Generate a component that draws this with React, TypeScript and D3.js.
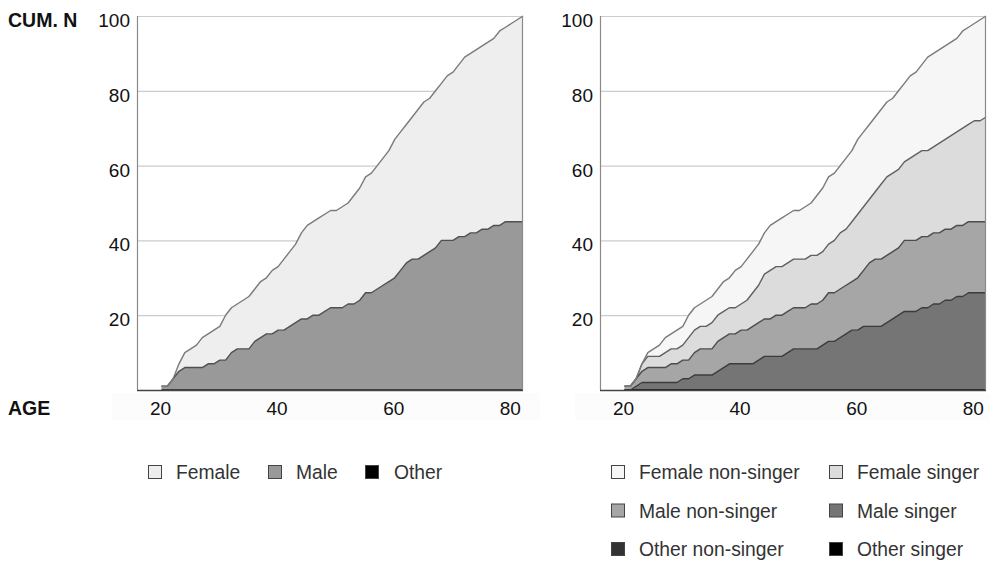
import React, { useEffect, useRef } from "react";
import * as d3 from "d3";

// age in years (x axis)
const ages = [
  20, 21, 22, 23, 24, 25, 26, 27, 28, 29, 30, 31, 32, 33, 34, 35, 36, 37, 38, 39, 40,
  41, 42, 43, 44, 45, 46, 47, 48, 49, 50, 51, 52, 53, 54, 55, 56, 57, 58, 59, 60, 61,
  62, 63, 64, 65, 66, 67, 68, 69, 70, 71, 72, 73, 74, 75, 76, 77, 78, 79, 80, 81, 82,
];

// cumulative number of people per group at each age
const femaleNonSinger = [
  0, 0, 0, 0, 1, 2, 3, 4, 4, 5, 5, 6, 6, 6, 7, 7, 7, 8, 8, 10, 10, 11, 11, 11, 11, 12,
  12, 13, 13, 13, 13, 14, 14, 16, 17, 18, 18, 18, 19, 19, 20, 20, 20, 20, 20, 20, 20,
  21, 21, 22, 22, 23, 25, 25, 25, 25, 25, 25, 26, 26, 26, 27, 27,
];
const femaleSinger = [
  0, 0, 0, 2, 3, 3, 3, 4, 4, 4, 4, 6, 6, 6, 6, 7, 7, 7, 7, 7, 7, 8, 9, 10, 12, 13, 13,
  13, 13, 13, 13, 13, 13, 13, 13, 13, 14, 15, 15, 16, 17, 17, 17, 18, 20, 21, 21, 21,
  21, 22, 23, 23, 23, 23, 24, 24, 25, 25, 26, 26, 27, 27, 28,
];
const maleNonSinger = [
  1, 1, 2, 3, 4, 4, 4, 4, 5, 5, 5, 5, 6, 7, 7, 7, 8, 8, 8, 8, 9, 9, 10, 10, 10, 10, 11,
  11, 11, 11, 11, 11, 12, 12, 12, 13, 13, 13, 13, 13, 14, 15, 17, 18, 18, 18, 18, 18,
  19, 19, 19, 19, 19, 19, 19, 19, 19, 19, 19, 19, 19, 19, 19,
];
const maleSinger = [
  0, 0, 1, 2, 2, 2, 2, 2, 2, 2, 3, 3, 4, 4, 4, 4, 5, 6, 7, 7, 7, 7, 7, 8, 9, 9, 9, 9,
  10, 11, 11, 11, 11, 11, 12, 13, 13, 14, 15, 16, 16, 17, 17, 17, 17, 18, 19, 20, 21,
  21, 21, 22, 22, 23, 23, 24, 24, 25, 25, 26, 26, 26, 26,
];
// nobody was in the "Other" group
const otherNonSinger = [
  0, 0, 0, 0, 0, 0, 0, 0, 0, 0, 0, 0, 0, 0, 0, 0, 0, 0, 0, 0, 0, 0, 0, 0, 0, 0, 0, 0,
  0, 0, 0, 0, 0, 0, 0, 0, 0, 0, 0, 0, 0, 0, 0, 0, 0, 0, 0, 0, 0, 0, 0, 0, 0, 0, 0, 0,
  0, 0, 0, 0, 0, 0, 0,
];
const otherSinger = [
  0, 0, 0, 0, 0, 0, 0, 0, 0, 0, 0, 0, 0, 0, 0, 0, 0, 0, 0, 0, 0, 0, 0, 0, 0, 0, 0, 0,
  0, 0, 0, 0, 0, 0, 0, 0, 0, 0, 0, 0, 0, 0, 0, 0, 0, 0, 0, 0, 0, 0, 0, 0, 0, 0, 0, 0,
  0, 0, 0, 0, 0, 0, 0,
];

const yTicks = [20, 40, 60, 80, 100];
const xTicks = [20, 40, 60, 80];

const FONT = "'Liberation Sans', Arial, sans-serif";

export default function App() {
  const ref = useRef<SVGSVGElement>(null);

  useEffect(() => {
    const svg = d3.select(ref.current);
    svg.selectAll("*").remove();

    // rows for the two stacks
    const rows = ages.map((age, i) => ({
      age,
      female: femaleNonSinger[i] + femaleSinger[i],
      male: maleNonSinger[i] + maleSinger[i],
      other: otherNonSinger[i] + otherSinger[i],
      femaleNonSinger: femaleNonSinger[i],
      femaleSinger: femaleSinger[i],
      maleNonSinger: maleNonSinger[i],
      maleSinger: maleSinger[i],
      otherNonSinger: otherNonSinger[i],
      otherSinger: otherSinger[i],
    }));

    const top = 16, bottom = 390, plotW = 386;

    const panels = [
      {
        left: 137,
        keys: ["other", "male", "female"],
        fill: { female: "#eeeeee", male: "#999999", other: "#000000" },
        line: { female: "#7a7a7a", male: "#505050", other: "#222222" },
        bandX: [112, 540],
      },
      {
        left: 600,
        keys: ["otherSinger", "otherNonSinger", "maleSinger", "maleNonSinger", "femaleSinger", "femaleNonSinger"],
        fill: {
          femaleNonSinger: "#f6f6f6", femaleSinger: "#dcdcdc", maleNonSinger: "#a6a6a6",
          maleSinger: "#757575", otherNonSinger: "#333333", otherSinger: "#000000",
        },
        line: {
          femaleNonSinger: "#7a7a7a", femaleSinger: "#606060", maleNonSinger: "#4c4c4c",
          maleSinger: "#3c3c3c", otherNonSinger: "#222222", otherSinger: "#111111",
        },
        bandX: [575, 990],
      },
    ];

    const y = d3.scaleLinear().domain([0, 100]).range([bottom, top]);

    panels.forEach((p) => {
      const x = d3.scaleLinear().domain([15.8, 82]).range([p.left, p.left + plotW]);
      const g = svg.append("g");

      // faint band behind the age labels
      g.append("rect")
        .attr("x", p.bandX[0]).attr("y", 393)
        .attr("width", p.bandX[1] - p.bandX[0]).attr("height", 27)
        .attr("fill", "#fcfcfc");

      g.append("rect")
        .attr("x", p.left).attr("y", top)
        .attr("width", plotW).attr("height", bottom - top)
        .attr("fill", "#ffffff");

      g.selectAll(".grid")
        .data(yTicks)
        .enter()
        .append("line")
        .attr("x1", p.left).attr("x2", p.left + plotW)
        .attr("y1", (d) => y(d) + 0.5).attr("y2", (d) => y(d) + 0.5)
        .attr("stroke", "#cccccc").attr("stroke-width", 1.2);

      const series = d3.stack<any>().keys(p.keys)(rows);

      const area = d3.area<any>()
        .x((d) => x(d.data.age))
        .y0((d) => y(d[0]))
        .y1((d) => y(d[1]));
      const topLine = d3.line<any>()
        .x((d) => x(d.data.age))
        .y((d) => y(d[1]));

      g.selectAll(".area")
        .data(series)
        .enter()
        .append("path")
        .attr("d", (s) => area(s) as string)
        .attr("fill", (s) => (p.fill as any)[s.key]);

      g.selectAll(".edge")
        .data(series)
        .enter()
        .append("path")
        .attr("d", (s) => topLine(s) as string)
        .attr("fill", "none")
        .attr("stroke", (s) => (p.line as any)[s.key])
        .attr("stroke-width", 1.4)
        .attr("stroke-linejoin", "round");

      // frame
      g.append("line")
        .attr("x1", p.left + 0.5).attr("x2", p.left + 0.5)
        .attr("y1", top).attr("y2", bottom)
        .attr("stroke", "#8a8a8a").attr("stroke-width", 1.2);
      g.append("line")
        .attr("x1", p.left + plotW - 0.5).attr("x2", p.left + plotW - 0.5)
        .attr("y1", top).attr("y2", bottom)
        .attr("stroke", "#8a8a8a").attr("stroke-width", 1.2);
      g.append("line")
        .attr("x1", p.left).attr("x2", p.left + plotW)
        .attr("y1", bottom + 0.5).attr("y2", bottom + 0.5)
        .attr("stroke", "#444444").attr("stroke-width", 1.3);

      g.selectAll(".ytick")
        .data(yTicks)
        .enter()
        .append("text")
        .attr("x", p.left - 7)
        .attr("y", (d) => y(d) + 11)
        .attr("text-anchor", "end")
        .attr("font-family", FONT)
        .attr("font-size", 19)
        .attr("fill", "#111")
        .text((d) => d);

      g.selectAll(".xtick")
        .data(xTicks)
        .enter()
        .append("text")
        .attr("x", (d) => x(d) - 1)
        .attr("y", 415)
        .attr("text-anchor", "middle")
        .attr("font-family", FONT)
        .attr("font-size", 19)
        .attr("fill", "#111")
        .text((d) => d);
    });

    // axis titles
    svg.append("text")
      .attr("x", 8).attr("y", 27)
      .attr("font-family", FONT).attr("font-size", 19.5).attr("font-weight", "bold")
      .attr("fill", "#111")
      .text("CUM. N");
    svg.append("text")
      .attr("x", 8).attr("y", 415)
      .attr("font-family", FONT).attr("font-size", 19.5).attr("font-weight", "bold")
      .attr("fill", "#111")
      .text("AGE");

    // legends
    const legendItems = [
      { label: "Female", color: "#eeeeee", sx: 148, tx: 176, yb: 479 },
      { label: "Male", color: "#999999", sx: 268, tx: 296, yb: 479 },
      { label: "Other", color: "#000000", sx: 365, tx: 394, yb: 479 },
      { label: "Female non-singer", color: "#f6f6f6", sx: 611, tx: 639, yb: 479 },
      { label: "Female singer", color: "#dcdcdc", sx: 829, tx: 857, yb: 479 },
      { label: "Male non-singer", color: "#a6a6a6", sx: 611, tx: 639, yb: 517.5 },
      { label: "Male singer", color: "#757575", sx: 829, tx: 857, yb: 517.5 },
      { label: "Other non-singer", color: "#333333", sx: 611, tx: 639, yb: 556 },
      { label: "Other singer", color: "#000000", sx: 829, tx: 857, yb: 556 },
    ];

    const lg = svg.append("g");
    legendItems.forEach((it) => {
      lg.append("rect")
        .attr("x", it.sx + 0.5).attr("y", it.yb - 13.5)
        .attr("width", 13).attr("height", 13)
        .attr("fill", it.color)
        .attr("stroke", "#444").attr("stroke-width", 1);
      lg.append("text")
        .attr("x", it.tx).attr("y", it.yb)
        .attr("font-family", FONT).attr("font-size", 19.3)
        .attr("fill", "#333")
        .text(it.label);
    });
  }, []);

  return (
    <svg
      ref={ref}
      width={990}
      height={561}
      style={{ position: "absolute", left: 0, top: 0, background: "#ffffff" }}
    />
  );
}
